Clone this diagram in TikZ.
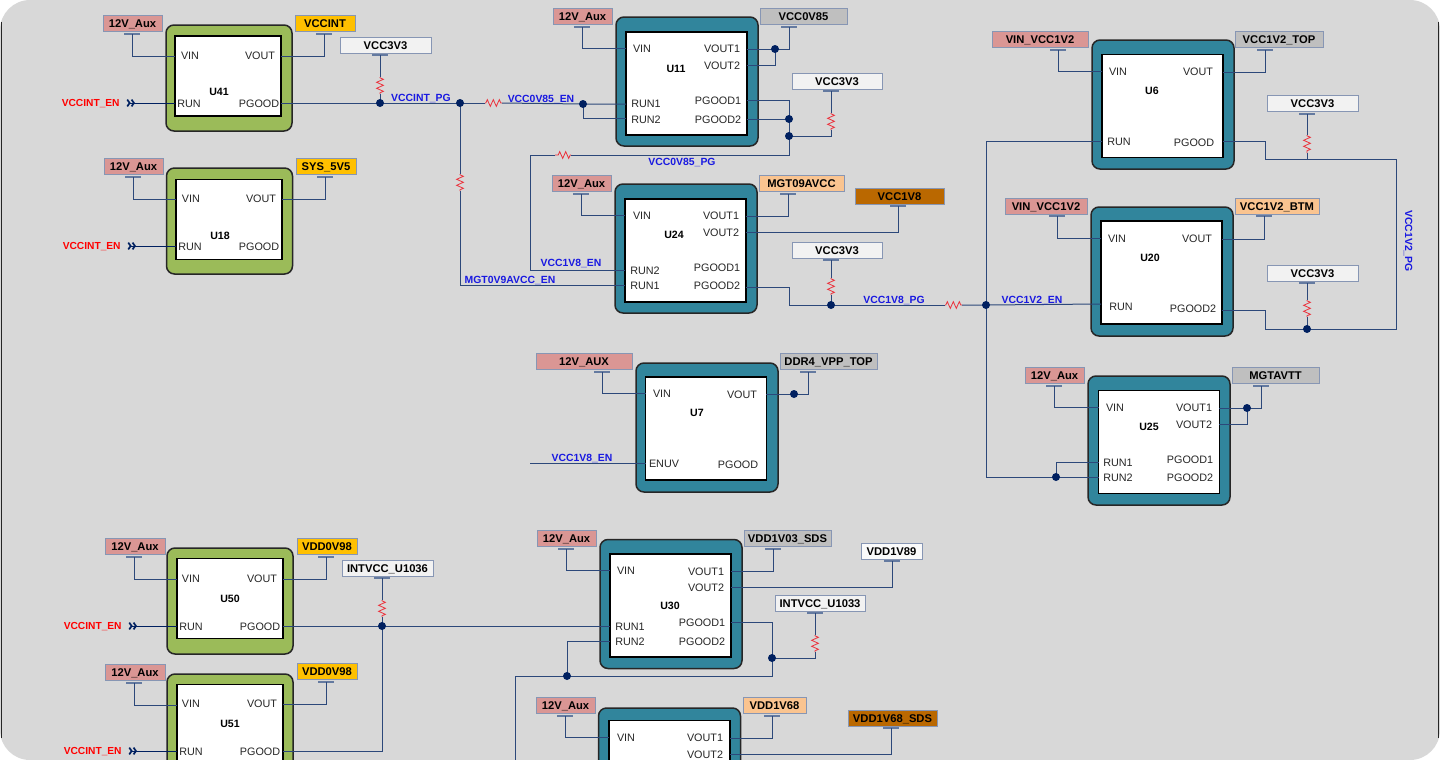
\documentclass[tikz,border=0pt]{standalone}
\usepackage{fontspec}
\setmainfont{Liberation Sans}
\usetikzlibrary{arrows.meta,decorations.pathmorphing}
\definecolor{panelfill}{RGB}{216,216,216}
\definecolor{greenfill}{RGB}{155,187,89}
\definecolor{tealfill}{RGB}{49,133,156}
\definecolor{wirecol}{RGB}{44,72,122}
\definecolor{tickcol}{RGB}{100,122,160}
\definecolor{railline}{RGB}{135,150,180}
\definecolor{dotcol}{RGB}{0,32,96}
\definecolor{netblue}{RGB}{25,25,225}
\definecolor{rescol}{RGB}{235,50,60}
\definecolor{railpink}{RGB}{218,150,148}
\definecolor{railamber}{RGB}{255,192,0}
\definecolor{railwhite}{RGB}{242,242,242}
\definecolor{railpale}{RGB}{250,250,250}
\definecolor{railgray}{RGB}{191,191,191}
\definecolor{railpeach}{RGB}{250,196,144}
\definecolor{railbrown}{RGB}{186,104,0}

\begin{document}
\begin{tikzpicture}[
  x=0.5pt, y=-0.5pt, font=\fontsize{5.4pt}{6pt}\selectfont,
  chip/.style={draw=black!85, line width=0.75pt, rounded corners=4pt, inner sep=0pt},
  greenchip/.style={chip, fill=greenfill, minimum width=63pt, minimum height=53pt},
  tealchip/.style={chip, fill=tealfill, minimum width=71pt, minimum height=64.5pt},
  core/.style={draw=black, fill=white, line width=0.8pt, inner sep=0pt},
  greencore/.style={core, minimum width=53pt, minimum height=40pt},
  tealcore/.style={core, minimum width=60.5pt, minimum height=51.5pt},
  pin/.style={inner sep=0pt, text=black!85, yshift=-0.4pt},
  title/.style={inner sep=0pt, yshift=-0.4pt, font=\fontsize{5.3pt}{6pt}\selectfont\bfseries},
  rail/.style={draw=railline, line width=0.5pt, minimum height=8pt, inner sep=0pt, text height=4pt, text depth=0pt, font=\fontsize{5.6pt}{6pt}\selectfont\bfseries},
  net/.style={inner sep=0pt, text=netblue, font=\fontsize{5.2pt}{6pt}\selectfont\bfseries},
  en/.style={inner sep=0pt, anchor=east, text=red, font=\fontsize{5.1pt}{6pt}\selectfont\bfseries},
  wire/.style={draw=wirecol, line width=0.5pt},
  tick/.style={draw=tickcol, line width=0.6pt},
  inflag/.style={{Straight Barb[reversed,length=1.2pt,width=3.4pt,line width=0.85pt]Straight Barb[reversed,length=1.2pt,width=3.4pt,line width=0.85pt]}-, dotcol, shorten <=3.2pt},
  res/.style={draw=rescol, line width=0.4pt, decorate, decoration={zigzag, amplitude=1.7pt, segment length=3pt, pre length=0.4pt, post length=0.4pt}}]
\useasboundingbox (0,0) rectangle (1440,760);
\clip (0,0) rectangle (1440,760);

% panel behind everything
\node[fill=panelfill, rounded corners=15pt, minimum width=720pt, minimum height=380pt, inner sep=0pt] (panel) at (720,380) {};
\draw[black!85, line width=0.8pt] (1.5,22) -- (1.5,738);
\draw[black!85, line width=0.8pt] (1438.5,22) -- (1438.5,738);

% regulators
\foreach \n/\s/\ox/\oy/\ix/\iy/\tx/\ty in {
  U41/green/229/78/228/76/219/91, U18/green/229.5/221/229/219.5/220/235,
  U50/green/230/601/230/598.5/230/598, U51/green/230/727/230/724.5/230/723,
  U11/teal/687/81.5/686.5/83.5/676/68, U24/teal/686/248.5/685.5/250.5/674/234,
  U6/teal/1163/104.5/1162.5/106/1152/90, U20/teal/1162/271.5/1161.5/272.5/1150/257,
  U7/teal/707/427.5/706/428.5/697/412, U25/teal/1159/440.5/1159/442/1149/426,
  U30/teal/671/604/670.5/605.5/670/605} {
  \node[\s chip] (\n) at (\ox,\oy) {};
  \node[\s core] (\n-i) at (\ix,\iy) {};
  \node[title] (\n-t) at (\tx,\ty) {\n};
}
\node[tealchip] (Ux) at (669.5,772.5) {};
\node[tealcore] (Ux-i) at (669.5,772) {};

% pin texts and the points where wires meet them
\foreach \n/\txt/\x/\y/\ex/\ey in {
  U41vin/VIN/190/55/175/56, U41vout/VOUT/260/55/281/56, U41run/RUN/189/103/175/103, U41pg/PGOOD/259/103/281/103,
  U18vin/VIN/191/198/176/199, U18vout/VOUT/261/198/282/199, U18run/RUN/190/246/176/246, U18pg/PGOOD/259/246/282/246,
  U50vin/VIN/191/578/177/579, U50vout/VOUT/262/578/283/579, U50run/RUN/191/626/177/626, U50pg/PGOOD/260/626/283/626,
  U51vin/VIN/191/703/177/705, U51vout/VOUT/262/703/283/704, U51run/RUN/191/751/177/751, U51pg/PGOOD/260/751/283/751,
  U11vin/VIN/642/48/626/48, U11vout1/VOUT1/722/48/747/49, U11vout2/VOUT2/722/65/747/65, U11run1/RUN1/646/103/626/104, U11run2/RUN2/646/119/626/118, U11pg1/PGOOD1/718/100/747/100, U11pg2/PGOOD2/718/119/747/119,
  U24vin/VIN/642/215/625/215, U24vout1/VOUT1/721/215/746/216, U24vout2/VOUT2/721/232/746/232, U24run2/RUN2/645/270/625/270, U24run1/RUN1/645/285/625/285, U24pg1/PGOOD1/717/267/746/267, U24pg2/PGOOD2/717/285/746/287,
  U6vin/VIN/1118/71/1102/71, U6vout/VOUT/1198/71/1223/72, U6run/RUN/1119/141/1102/141, U6pg/PGOOD/1194/142/1223/141,
  U20vin/VIN/1117/238/1101/238, U20vout/VOUT/1197/238/1222/239, U20run/RUN/1121/306/1101/304, U20pg2/PGOOD2/1193/308/1222/310,
  U7vin/VIN/662/393/646/393, U7vout/VOUT/742/394/766/394, U7enuv/ENUV/664/463/646/463, U7pg/PGOOD/738/464/766/464,
  U25vin/VIN/1115/407/1099/407, U25vout1/VOUT1/1194/407/1219/408, U25vout2/VOUT2/1194/424/1219/424, U25run1/RUN1/1118/462/1099/462, U25run2/RUN2/1118/477/1099/477, U25pg1/PGOOD1/1190/459/1219/459, U25pg2/PGOOD2/1190/477/1219/477,
  U30vin/VIN/626/570/610/570, U30vout1/VOUT1/706/571/731/571, U30vout2/VOUT2/706/587/731/587, U30run1/RUN1/630/626/610/626, U30run2/RUN2/630/641/610/641, U30pg1/PGOOD1/702/622/731/622, U30pg2/PGOOD2/702/641/731/641,
  Uxvin/VIN/626/737/609/737, Uxvout1/VOUT1/705/737/730/738, Uxvout2/VOUT2/705/754/730/754} {
  \node[pin] (t\n) at (\x,\y) {\txt};
  \coordinate (\n) at (\ex,\ey);
}

% rails with their ticks
\foreach \n/\txt/\col/\x/\y/\w/\tx/\ty in {
  r41a/12V\_Aux/railpink/132.5/23/59/132/34, r41b/VCCINT/railamber/325/23/60/324/34, r41c/VCC3V3/railwhite/385.5/45/91/380/55,
  r18a/12V\_Aux/railpink/133.5/166/59/133/177, r18b/SYS\_5V5/railamber/326/166/60/325/177,
  r11a/12V\_Aux/railpink/582.5/16/59/582/27, r11b/VCC0V85/railgray/803.5/16/87/789/27, r11c/VCC3V3/railwhite/837/81/90/831/91,
  r24a/12V\_Aux/railpink/581.5/183/59/581/194, r24b/MGT09AVCC/railpeach/801.5/183/85/788/194, r24c/VCC1V8/railbrown/899.5/196/89/898/206, r24d/VCC3V3/railwhite/837/250/90/831/260,
  r6a/VIN\_VCC1V2/railpink/1040/39/96/1058/50, r6b/VCC1V2\_TOP/railgray/1279/39/88/1265/50, r6c/VCC3V3/railwhite/1312.5/103/91/1307/114,
  r20a/VIN\_VCC1V2/railpink/1046/206/82/1057/216, r20b/VCC1V2\_BTM/railpeach/1277/206/84/1264/216, r20c/VCC3V3/railwhite/1312.5/273/91/1307/283,
  r7a/12V\_AUX/railpink/584/361/96/602/372, r7b/DDR4\_VPP\_TOP/railgray/828.5/361/97/808/372,
  r25a/12V\_Aux/railpink/1054.5/375/59/1054/386, r25b/MGTAVTT/railgray/1275.5/375/87/1261/386,
  r50a/12V\_Aux/railpink/135/546/60/134/557, r50b/VDD0V98/railamber/327/546/60/326/557, r50c/INTVCC\_U1036/railwhite/387.5/568/91/382/578,
  r51a/12V\_Aux/railpink/135/672/60/134/683, r51b/VDD0V98/railamber/327/671/60/326/682,
  r30a/12V\_Aux/railpink/566.5/538/59/566/549, r30b/VDD1V03\_SDS/railgray/787.5/538/87/773/549, r30c/VDD1V89/railpale/891.5/551/61/892/561, r30d/INTVCC\_U1033/railwhite/820/603/90/815/613,
  r31a/12V\_Aux/railpink/565.5/705/59/565/716, r31b/VDD1V68/railpeach/774.5/705/63/772/716, r31c/VDD1V68\_SDS/railbrown/892.5/718/89/891/728} {
  \node[rail, fill=\col, minimum width=\w*0.5pt] (\n) at (\x,\y) {\txt};
  \coordinate (\n-t) at (\tx,\ty);
  \draw[tick] ([xshift=-4pt]\n-t) -- ([xshift=4pt]\n-t);
}

% pull-up and series resistors
\foreach \n/\xa/\ya/\xb/\yb in {
  R1/380/77/380/94, R2/460/174/460/191, R3/485/103/502/103, R4/831/113/831/130, R5/571/155/555/155, R6/831/278/831/295,
  R7/945/305/962/305, R8/1307/135/1307/153, R9/1307/300/1307/317, R10/382/600/382/617, R11/815/635/815/652} {
  \coordinate (\n-a) at (\xa,\ya);
  \coordinate (\n-b) at (\xb,\yb);
  \draw[res] (\n-a) -- (\n-b);
}

% junctions and bends
\foreach \n/\x/\y in {
  j1/380/103, j2/460/103, j3/583/104, j4/775/49, j5/789/119, j6/789/136, j7/831/305, j8/986/305, j9/1307/329, j10/794/394,
  j11/1247/408, j12/1056/477, j13/382/626, j14/567/676, j15/772/658,
  k1/530/155, k2/789/287, k3/1265/141, k4/1396/159, k5/1307/159, k6/1265/310, k7/772/676, k8/515/676, k9/515/770, k10/530/463} {
  \coordinate (\n) at (\x,\y);
}

% enables coming in from the left
\node[en] (en41) at (120,104) {VCCINT\_EN};
\node[en] (en18) at (121,247) {VCCINT\_EN};
\node[en] (en50) at (122,627) {VCCINT\_EN};
\node[en] (en51) at (122,752) {VCCINT\_EN};
\draw[wire, inflag] (en41.east |- U41run) -- (U41run);
\draw[wire, inflag] (en18.east |- U18run) -- (U18run);
\draw[wire, inflag] (en50.east |- U50run) -- (U50run);
\draw[wire, inflag] (en51.east |- U51run) -- (U51run);

% input and output wires
\foreach \a/\b in {r41a-t/U41vin, r18a-t/U18vin, r50a-t/U50vin, r51a-t/U51vin, r11a-t/U11vin, r24a-t/U24vin, r6a-t/U6vin, r20a-t/U20vin, r7a-t/U7vin, r25a-t/U25vin, r30a-t/U30vin, r31a-t/Uxvin} {
  \draw[wire] (\a) |- (\b);
}
\foreach \a/\b in {U41vout/r41b-t, U18vout/r18b-t, U50vout/r50b-t, U51vout/r51b-t, U11vout1/r11b-t, U11vout2/j4, U24vout1/r24b-t, U24vout2/r24c-t, U6vout/r6b-t, U20vout/r20b-t, U7vout/r7b-t, U25vout1/r25b-t, U25vout2/j11, U30vout1/r30b-t, U30vout2/r30c-t, Uxvout1/r31b-t, Uxvout2/r31c-t} {
  \draw[wire] (\a) -| (\b);
}

% top row enables
\draw[wire] (U41pg) -- (j2);
\draw[wire] (r41c-t) -- (R1-a); \draw[wire] (R1-b) -- (j1);
\draw[wire] (j2) -- (R2-a); \draw[wire] (R2-b) |- (U24run1);
\draw[wire] (j2) -- (R3-a); \draw[wire] (R3-b) -- (j3) -- (U11run1); \draw[wire] (j3) |- (U11run2);
\draw[wire] (U11pg1) -| (j6); \draw[wire] (U11pg2) -- (j5);
\draw[wire] (j6) -| (R4-b); \draw[wire] (R4-a) -- (r11c-t);
\draw[wire] (j6) |- (R5-a); \draw[wire] (R5-b) -- (k1) |- (U24run2);
\draw[wire] (U24pg2) -- (k2) |- (j7);
\draw[wire] (r24d-t) -- (R6-a); \draw[wire] (R6-b) -- (j7);
\draw[wire] (j7) -- (R7-a); \draw[wire] (R7-b) -- (j8) -- (U20run);
\draw[wire] (j8) |- (U6run); \draw[wire] (j8) |- (U25run2); \draw[wire] (j12) |- (U25run1);
\draw[wire] (U6pg) -- (k3) |- (k4) |- (j9);
\draw[wire] (r6c-t) -- (R8-a); \draw[wire] (R8-b) -- (k5);
\draw[wire] (U20pg2) -- (k6) |- (j9);
\draw[wire] (r20c-t) -- (R9-a); \draw[wire] (R9-b) -- (j9);
\draw[wire] (k10) -- (U7enuv);

% bottom row enables
\draw[wire] (U50pg) -- (U30run1); \draw[wire] (U51pg) -| (j13);
\draw[wire] (r50c-t) -- (R10-a); \draw[wire] (R10-b) -- (j13);
\draw[wire] (U30pg1) -| (k7) -- (k8) -- (k9); \draw[wire] (j14) |- (U30run2);
\draw[wire] (j15) -| (R11-b); \draw[wire] (R11-a) -- (r30d-t);

% dots go on top of the wires
\foreach \n in {j1,j2,j3,j4,j5,j6,j7,j8,j9,j10,j11,j12,j13,j14,j15} {
  \fill[dotcol] (\n) circle (2pt);
}

% net names
\foreach \n/\txt/\x/\y in {
  nA/VCCINT\_PG/421/99, nB/VCC0V85\_EN/541/100, nC/VCC0V85\_PG/682/163, nD/VCC1V8\_EN/571/264, nE/MGT0V9AVCC\_EN/510/281,
  nF/VCC1V8\_PG/894/301, nG/VCC1V2\_EN/1032/301, nH/VCC1V8\_EN/582/458} {
  \node[net] (\n) at (\x,\y) {\txt};
}
\node[net, rotate=-90] (nI) at (1408,241) {VCC1V2\_PG};
\end{tikzpicture}
\end{document}
